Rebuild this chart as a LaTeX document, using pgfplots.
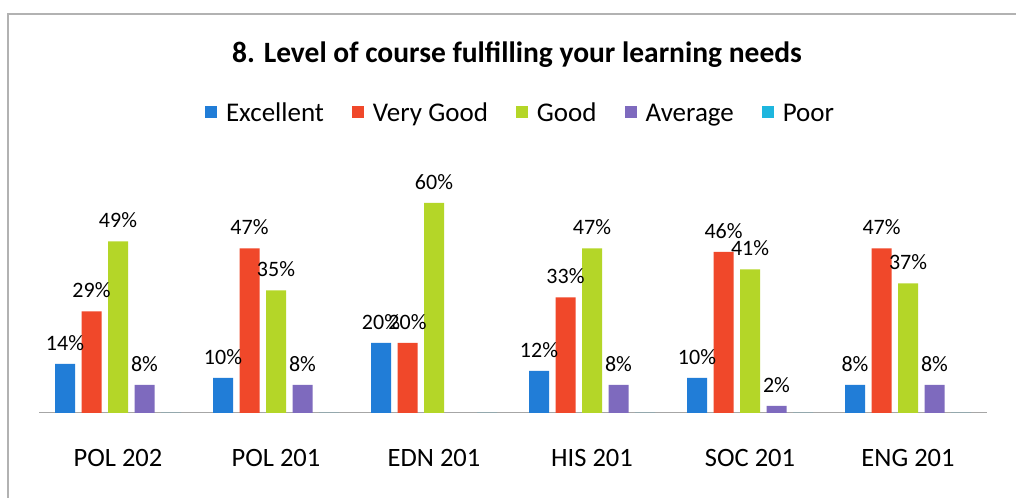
\documentclass[border=0pt]{standalone}
\usepackage{pgfplots}
\pgfplotsset{compat=1.18}
\usepackage{fontspec}
\setmainfont{Carlito}
\definecolor{cExc}{RGB}{33,125,215}
\definecolor{cVG}{RGB}{240,72,42}
\definecolor{cGood}{RGB}{180,214,40}
\definecolor{cAvg}{RGB}{126,106,190}
\definecolor{cPoor}{RGB}{30,182,222}
\pgfplotsset{lbl/.style={nodes near coords={\pgfmathprintnumber[assume math mode=true]{\pgfplotspointmeta}\%}}}
\begin{document}
\begin{tikzpicture}[x=1bp,y=1bp]
\useasboundingbox (0,0) rectangle (1016,498);
\fill[white] (0,0) rectangle (1016,498);
\draw[gray!60, line width=1.2bp] (8,0) -- (8,484) -- (1016,484);
\node[anchor=base, font=\fontsize{29.5bp}{34bp}\selectfont\bfseries] at (517,435) {8. Level of course fulfilling your learning needs};
\begin{axis}[
  at={(39bp,85bp)}, anchor=south west,
  scale only axis, width=948bp, height=245bp,
  xmin=-0.5, xmax=5.5, ymin=0, ymax=70,
  ybar, bar width=20bp,
  /pgf/number format/assume math mode=true,
  axis y line=none, axis x line=bottom,
  axis line style={-, draw=gray!70, line width=1bp},
  xtick={0,1,2,3,4,5},
  xticklabels={POL 202,POL 201,EDN 201,HIS 201,SOC 201,ENG 201},
  xtick style={draw=none},
  xticklabel style={font=\fontsize{26.5bp}{30bp}\selectfont, yshift=-31bp},
  every node near coord/.append style={font=\fontsize{22bp}{26bp}\selectfont, yshift=10bp, text=black},
  legend columns=5,
  legend style={draw=none, fill=none, at={(0.508,1.224)}, anchor=center,
    font=\fontsize{27bp}{31bp}\selectfont,
    /tikz/every odd column/.append style={column sep=7bp},
    /tikz/every even column/.append style={column sep=26bp}},
  legend image code/.code={\fill[#1] (0bp,-5bp) rectangle (12bp,7bp);},
]
\addplot[fill=cExc, draw=none, bar shift=-53bp, lbl] coordinates {(0,14) (1,10) (2,20) (3,12) (4,10) (5,8)};
\addplot[fill=cVG, draw=none, bar shift=-26.5bp, lbl] coordinates {(0,29) (1,47) (2,20) (3,33) (4,46) (5,47)};
\addplot[fill=cGood, draw=none, bar shift=0bp, lbl] coordinates {(0,49) (1,35) (2,60) (3,47) (4,41) (5,37)};
\addplot[fill=cAvg, draw=none, bar shift=26.5bp, lbl] coordinates {(0,8) (1,8) (3,8) (4,2) (5,8)};
\addplot[fill=cPoor, draw=none, bar shift=53bp] coordinates {(0,0) (1,0) (2,0) (3,0) (4,0) (5,0)};
\legend{Excellent, Very Good, Good, Average, Poor}
\end{axis}
\end{tikzpicture}
\end{document}
